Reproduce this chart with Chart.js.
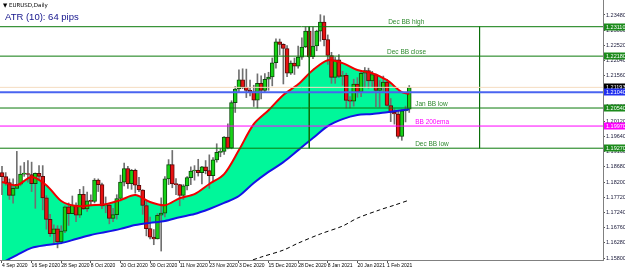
<!DOCTYPE html>
<html>
<head>
<meta charset="utf-8">
<script src="https://cdn.jsdelivr.net/npm/chart.js@4.4.1/dist/chart.umd.min.js"></script>
<style>
  html, body { margin: 0; padding: 0; background: #fff; }
</style>
</head>
<body>
<canvas id="myChart" width="625" height="270"></canvas>
<script>
// EURUSD daily bars, 4 Sep 2020 .. 9 Feb 2021 (bar index = position on x)
let open = [1.1850,1.1837,1.1818,1.1778,1.1800,1.1813,1.1845,1.1846,1.1844,1.1815,1.1848,1.1838,1.1770,1.1702,1.1657,1.1672,1.1631,1.1665,1.1742,
  1.1720,1.1747,1.1715,1.1781,1.1735,1.1761,1.1759,1.1826,1.1812,1.1745,1.1747,1.1705,1.1717,1.1768,1.1820,1.1863,1.1815,1.1857,1.1810,1.1795,1.1746,1.1673,
  1.1646,1.1640,1.1715,1.1722,1.1830,1.1875,1.1814,1.1812,1.1778,1.1808,1.1834,1.1855,1.1857,1.1850,1.1868,1.1856,1.1840,1.1890,1.1914,1.1917,1.1962,
  1.1927,1.2071,1.2114,1.2143,1.2120,1.2110,1.2105,1.2079,1.2132,1.2110,1.2145,1.2152,1.2197,1.2263,1.2255,1.2242,1.2164,1.2196,1.2186,1.2215,1.2247,1.2297,
  1.2216,1.2250,1.2297,1.2326,1.2270,1.2220,1.2151,1.2206,1.2154,1.2157,1.2078,1.2076,1.2130,1.2105,1.2164,1.2172,1.2140,1.2160,1.2110,1.2118,
  1.2136,1.2062,1.2040,1.2035,1.1964,1.2045,1.2050];
let high = [1.1870,1.1850,1.1830,1.1830,1.1917,1.1871,1.1882,1.1888,1.1883,1.1849,1.1872,1.1872,1.1777,1.1718,1.1685,1.1682,1.1682,1.1745,1.1754,
  1.1776,1.1754,1.1797,1.1806,1.1788,1.1780,1.1831,1.1830,1.1817,1.1773,1.1751,1.1737,1.1780,1.1842,1.1880,1.1870,1.1860,1.1861,1.1835,1.1796,1.1760,1.1709,
  1.1670,1.1720,1.1770,1.1837,1.1891,1.1920,1.1831,1.1813,1.1812,1.1837,1.1868,1.1872,1.1892,1.1870,1.1888,1.1906,1.1897,1.1941,1.1925,1.1964,1.2004,
  1.2077,1.2122,1.2175,1.2178,1.2177,1.2142,1.2126,1.2162,1.2156,1.2163,1.2167,1.2212,1.2273,1.2272,1.2257,1.2251,1.2203,1.2212,1.2250,1.2276,1.2310,1.2310,
  1.2310,1.2300,1.2349,1.2345,1.2285,1.2230,1.2214,1.2223,1.2170,1.2164,1.2090,1.2145,1.2150,1.2171,1.2182,1.2180,1.2170,1.2162,1.2141,1.2155,
  1.2145,1.2084,1.2051,1.2045,1.2050,1.2060,1.2125];
let low = [1.1780,1.1810,1.1765,1.1753,1.1800,1.1808,1.1838,1.1820,1.1790,1.1737,1.1825,1.1732,1.1671,1.1648,1.1627,1.1612,1.1625,1.1660,1.1683,
  1.1720,1.1695,1.1708,1.1733,1.1727,1.1745,1.1754,1.1790,1.1736,1.1723,1.1688,1.1695,1.1703,1.1760,1.1808,1.1800,1.1797,1.1785,1.1790,1.1718,1.1650,1.1640,
  1.1622,1.1640,1.1602,1.1710,1.1812,1.1802,1.1780,1.1745,1.1765,1.1795,1.1812,1.1826,1.1839,1.1814,1.1846,1.1800,1.1820,1.1883,1.1900,1.1907,1.1925,
  1.1925,1.2040,1.2106,1.2115,1.2087,1.2092,1.2059,1.2054,1.2083,1.2105,1.2110,1.2124,1.2180,1.2222,1.2130,1.2153,1.2160,1.2160,1.2180,1.2208,1.2245,1.2213,
  1.2210,1.2235,1.2265,1.2250,1.2192,1.2132,1.2132,1.2150,1.2126,1.2054,1.2054,1.2060,1.2088,1.2090,1.2118,1.2116,1.2120,1.2058,1.2057,1.2107,
  1.2060,1.2011,1.2003,1.1959,1.1952,1.2010,1.2040];
let close = [1.1837,1.1818,1.1778,1.1800,1.1813,1.1845,1.1846,1.1844,1.1815,1.1848,1.1838,1.1770,1.1702,1.1657,1.1672,1.1631,1.1665,1.1742,1.1720,
  1.1747,1.1715,1.1781,1.1735,1.1761,1.1759,1.1826,1.1812,1.1745,1.1747,1.1705,1.1717,1.1768,1.1820,1.1863,1.1815,1.1857,1.1810,1.1795,1.1746,1.1673,1.1646,
  1.1640,1.1715,1.1722,1.1830,1.1875,1.1814,1.1812,1.1778,1.1808,1.1834,1.1855,1.1857,1.1850,1.1868,1.1856,1.1840,1.1890,1.1914,1.1917,1.1962,1.1927,
  1.2071,1.2114,1.2143,1.2120,1.2110,1.2105,1.2079,1.2132,1.2110,1.2145,1.2152,1.2197,1.2263,1.2255,1.2242,1.2164,1.2196,1.2186,1.2215,1.2247,1.2297,1.2216,
  1.2250,1.2297,1.2326,1.2270,1.2220,1.2151,1.2206,1.2154,1.2157,1.2078,1.2076,1.2130,1.2105,1.2164,1.2172,1.2140,1.2160,1.2110,1.2118,1.2136,
  1.2062,1.2040,1.2035,1.1964,1.2045,1.2050,1.2119];

// moving averages (bar index -> price)
let maBars  = [0,4,8,12,16,20,24,28,32,36,40,44,48,52,56,60,64,68,72,76,80,84,88,92,96,100,104,108,110];
let redMa   = [1.1820,1.1810,1.1836,1.1810,1.1760,1.1744,1.1747,1.1750,1.1763,1.1779,1.1757,1.1747,1.1769,1.1782,1.1814,1.1845,1.1921,1.2003,1.2047,1.2095,1.2129,1.2174,1.2205,1.2196,1.2174,1.2164,1.2142,1.2104,1.2098];
let blueMa  = [1.1565,1.1589,1.1612,1.1621,1.1627,1.1640,1.1653,1.1662,1.1672,1.1684,1.1691,1.1697,1.1709,1.1719,1.1735,1.1754,1.1776,1.1817,1.1852,1.1883,1.1921,1.1959,1.1997,1.2019,1.2032,1.2035,1.2041,1.2047,1.2050];
let slowBars = [66,70,76,80,86,92,96,102,106,110];
let slowMa   = [1.1567,1.1583,1.1605,1.1627,1.1656,1.1681,1.1706,1.1732,1.1747,1.1763];

// horizontal levels
let levelNames  = ['Dec BB high','Dec BB close','Jan BB low','BB 200ema','Dec BB low'];
let levelValues = [1.23110,1.22180,1.20540,1.19970,1.19270];
let bidPrice = 1.21193;
let blueLevel = 1.21040;
let boxBars = [83,129];

// axis ticks
let xTickBars   = [0,8,16,24,32,40,48,56,64,72,80,88,96,104];
let xTickLabels = ['4 Sep 2020','16 Sep 2020','28 Sep 2020','8 Oct 2020','20 Oct 2020','30 Oct 2020','11 Nov 2020','23 Nov 2020','3 Dec 2020','15 Dec 2020','28 Dec 2020','8 Jan 2021','20 Jan 2021','1 Feb 2021'];
let yTicks = [1.15800,1.16280,1.16760,1.17240,1.17720,1.18200,1.18680,1.19160,1.19640,1.20120,1.20600,1.21080,1.21560,1.22040,1.22520,1.23000,1.23480];

const X_MIN = -0.54, X_MAX = 162.34;
const Y_MIN = 1.15737, Y_MAX = 1.23954;
const FONT = '"Liberation Sans", Arial, sans-serif';
const levelColors = ['#0b7a0b','#0b7a0b','#0b7a0b','#ff00ff','#0b7a0b'];
const tagColors = ['#1b8a1b','#1b8a1b','#1b8a1b','#ff00ff','#1b8a1b'];

function points(xs, ys){
  return xs.map(function(x, i){ return {x: x, y: ys[i]}; });
}

let bodies = open.map(function(o, i){ return {x: i, y: [o, close[i]]}; });
let wicks = low.map(function(l, i){ return {x: i, y: [l, high[i]]}; });

let datasets = [];
datasets.push({
  type: 'line', data: points(maBars, redMa), borderColor: '#f00000', borderWidth: 2,
  pointRadius: 0, fill: '+1', backgroundColor: '#00f79a', order: 2, tension: 0.3
});
datasets.push({
  type: 'line', data: points(maBars, blueMa), borderColor: '#1414e6', borderWidth: 2,
  pointRadius: 0, fill: false, order: 2, tension: 0.3
});
datasets.push({
  type: 'line', data: points(slowBars, slowMa), borderColor: '#000', borderWidth: 1,
  borderDash: [4, 3], pointRadius: 0, fill: false, order: 2, tension: 0.3
});
datasets.push({
  type: 'bar', data: wicks, backgroundColor: '#707070', barThickness: 1, grouped: false, order: 6
});
datasets.push({
  type: 'bar', data: bodies, barThickness: 4, grouped: false, order: 5, minBarLength: 1,
  borderWidth: 1, borderSkipped: false,
  borderColor: function(c){ let i = c.dataIndex; return close[i] >= open[i] ? '#0a4a0a' : '#5a0a0a'; },
  backgroundColor: function(c){ let i = c.dataIndex; return close[i] >= open[i] ? '#16d216' : '#e81212'; }
});
levelValues.forEach(function(v, i){
  datasets.push({
    type: 'line', data: [{x: X_MIN, y: v}, {x: X_MAX, y: v}], borderColor: levelColors[i],
    borderWidth: 1, pointRadius: 0, fill: false, order: 1
  });
});
datasets.push({
  type: 'line', data: [{x: X_MIN, y: bidPrice}, {x: X_MAX, y: bidPrice}], borderColor: '#f5dcc0',
  borderWidth: 1, pointRadius: 0, fill: false, order: 1
});
datasets.push({
  type: 'line', data: [{x: X_MIN, y: blueLevel}, {x: X_MAX, y: blueLevel}], borderColor: '#4a64f0',
  borderWidth: 2, pointRadius: 0, fill: false, order: 1
});
boxBars.forEach(function(b){
  datasets.push({
    type: 'line', data: [{x: b, y: levelValues[0]}, {x: b, y: levelValues[4]}], borderColor: '#0b6e0b',
    borderWidth: 1, pointRadius: 0, fill: false, order: 1
  });
});

const overlay = {
  id: 'overlay',
  afterDraw(chart){
    const ctx = chart.ctx, xs = chart.scales.x, ys = chart.scales.y, area = chart.chartArea;
    ctx.save();
    // level captions
    const capBars = [104.3, 104, 111.6, 111.6, 111.6];
    ctx.font = '6.5px ' + FONT;
    ctx.textBaseline = 'bottom';
    levelNames.forEach(function(n, i){
      ctx.fillStyle = i === 3 ? '#ff00ff' : '#2f8a2f';
      ctx.fillText(n, xs.getPixelForValue(capBars[i]), ys.getPixelForValue(levelValues[i]) - 1);
    });
    // price tags on the right axis
    function tag(v, bg){
      let y = Math.round(ys.getPixelForValue(v));
      ctx.fillStyle = bg;
      ctx.fillRect(area.right + 1, y - 3.5, 21, 7);
      ctx.fillStyle = '#fff';
      ctx.font = '5.5px ' + FONT;
      ctx.textBaseline = 'middle';
      ctx.fillText(v.toFixed(5), area.right + 3, y);
    }
    levelValues.forEach(function(v, i){ tag(v, tagColors[i]); });
    tag(bidPrice, '#000');
    tag(blueLevel, '#2030f0');
    // title
    ctx.fillStyle = '#000';
    ctx.font = '5.5px "DejaVu Sans", sans-serif';
    ctx.textBaseline = 'alphabetic';
    ctx.fillText('\u25BC EURUSD,Daily', 3, 7);
    ctx.fillStyle = '#14148c';
    ctx.font = '9.5px ' + FONT;
    ctx.fillText('ATR (10): 64 pips', 5, 20);
    ctx.restore();
  }
};

let config = {
  type: 'bar',
  data: { datasets: datasets },
  options: {
    responsive: false,
    animation: false,
    devicePixelRatio: 1,
    layout: { padding: 0 },
    plugins: {
      legend: { display: false },
      tooltip: { enabled: false },
      filler: { drawTime: 'beforeDatasetsDraw' }
    },
    scales: {
      x: {
        type: 'linear', min: X_MIN, max: X_MAX, position: 'bottom', offset: false,
        grid: { offset: false, drawOnChartArea: false, drawTicks: true, tickLength: 3, color: '#555' },
        border: { display: true, color: '#808080' },
        afterBuildTicks: function(s){ s.ticks = xTickBars.map(function(v){ return {value: v}; }); },
        afterFit: function(s){ s.height = 10; s.paddingLeft = 0; s.paddingRight = 0; },
        ticks: {
          autoSkip: false, maxRotation: 0, align: 'start', padding: 0, color: '#000',
          font: { size: 5, family: FONT },
          callback: function(v){ let k = xTickBars.indexOf(v); return k >= 0 ? xTickLabels[k] : ''; }
        }
      },
      y: {
        type: 'linear', min: Y_MIN, max: Y_MAX, position: 'right',
        grid: { drawOnChartArea: false, drawTicks: true, tickLength: 2, color: '#555' },
        border: { display: true, color: '#808080' },
        afterBuildTicks: function(s){ s.ticks = yTicks.map(function(v){ return {value: v}; }); },
        afterFit: function(s){ s.width = 22; s.paddingTop = 0; s.paddingBottom = 0; },
        ticks: {
          padding: 1, color: '#1a1a3a', font: { size: 5.5, family: FONT },
          callback: function(v){ return v.toFixed(5); }
        }
      }
    }
  },
  plugins: [overlay]
};

let myChart = new Chart(document.getElementById('myChart'), config);
</script>
</body>
</html>
